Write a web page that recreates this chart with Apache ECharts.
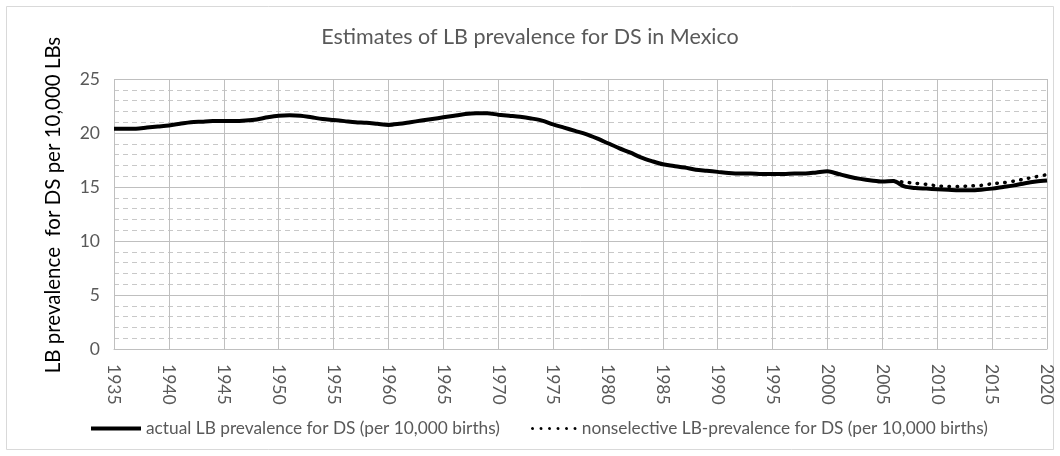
<!DOCTYPE html>
<html><head><meta charset="utf-8">
<script src="https://cdn.jsdelivr.net/npm/echarts@6/dist/echarts.min.js"></script>
<style>html,body{margin:0;padding:0;background:#fff}#c{width:1060px;height:456px}</style>
</head><body><div id="c"></div>
<script>
var years = [1935,1936,1937,1938,1939,1940,1941,1942,1943,1944,1945,1946,1947,1948,1949,1950,1951,1952,1953,1954,1955,1956,1957,1958,1959,1960,1961,1962,1963,1964,1965,1966,1967,1968,1969,1970,1971,1972,1973,1974,1975,1976,1977,1978,1979,1980,1981,1982,1983,1984,1985,1986,1987,1988,1989,1990,1991,1992,1993,1994,1995,1996,1997,1998,1999,2000,2001,2002,2003,2004,2005,2006,2007,2008,2009,2010,2011,2012,2013,2014,2015,2016,2017,2018,2019,2020];
var actualLB = [20.4,20.4,20.4,20.5,20.6,20.7,20.85,21.0,21.05,21.1,21.1,21.1,21.15,21.25,21.45,21.6,21.65,21.6,21.45,21.3,21.2,21.1,21.0,20.95,20.85,20.75,20.85,21.0,21.15,21.3,21.45,21.6,21.75,21.82,21.82,21.7,21.6,21.5,21.35,21.15,20.8,20.5,20.2,19.9,19.5,19.05,18.6,18.2,17.75,17.4,17.1,16.95,16.8,16.6,16.5,16.4,16.3,16.25,16.25,16.2,16.2,16.2,16.25,16.25,16.35,16.45,16.2,15.95,15.75,15.6,15.5,15.55,15.05,14.9,14.85,14.8,14.75,14.7,14.7,14.75,14.85,15.0,15.15,15.35,15.5,15.6];
var nonselYears = [2006,2007,2008,2009,2010,2011,2012,2013,2014,2015,2016,2017,2018,2019,2020];
var nonselLB = [15.55,15.45,15.35,15.25,15.1,15.05,15.05,15.1,15.15,15.3,15.4,15.55,15.75,15.95,16.15];
var titleText = 'Estimates of LB prevalence for DS in Mexico';
var yName = 'LB prevalence  for DS per 10,000 LBs';
var s1Name = 'actual LB prevalence for DS (per 10,000 births)';
var s2Name = 'nonselective LB-prevalence for DS (per 10,000 births)';

var FONT = 'Lato';
var dotIcon = 'path://M1.5,0a1.5,1.5 0 1,0 0.01,0zM10,0a1.5,1.5 0 1,0 0.01,0zM18.5,0a1.5,1.5 0 1,0 0.01,0zM27,0a1.5,1.5 0 1,0 0.01,0zM35.5,0a1.5,1.5 0 1,0 0.01,0zM44,0a1.5,1.5 0 1,0 0.01,0z';
var chart = echarts.init(document.getElementById('c'), null, {renderer:'canvas'});
chart.setOption({
  animation:false,
  backgroundColor:'#fff',
  textStyle:{fontFamily:FONT},
  graphic:[
    {type:'rect',shape:{x:6.5,y:6.5,width:1047,height:443},style:{fill:'none',stroke:'#d9d9d9',lineWidth:1},silent:true},
    {type:'text',x:53,y:205,rotation:Math.PI/2,silent:true,
      style:{text:yName,fill:'#000',font:'20.5px Lato',textAlign:'center',textVerticalAlign:'middle'}}
  ],
  title:{text:titleText,left:'center',top:21,textStyle:{fontFamily:FONT,fontSize:21.5,fontWeight:'normal',color:'#595959'}},
  grid:{left:114,right:13,top:79,bottom:107},
  legend:[
    {data:[{name:s1Name,icon:'rect'}],left:91,top:420,padding:0,itemWidth:50,itemHeight:4,textStyle:{fontFamily:FONT,fontSize:17.3,color:'#595959'}},
    {data:[{name:s2Name,icon:dotIcon}],left:531,top:420,padding:0,itemWidth:46,itemHeight:3,textStyle:{fontFamily:FONT,fontSize:17.3,color:'#595959'}}
  ],
  xAxis:{type:'value',min:1935,max:2020,interval:5,
    axisLine:{show:true,lineStyle:{color:'#bfbfbf'}},axisTick:{show:false},
    splitLine:{show:true,lineStyle:{color:'#bfbfbf',width:1}},
    axisLabel:{rotate:-90,margin:15,fontFamily:FONT,fontSize:17.5,color:'#595959',formatter:function(v){return String(v);}}},
  yAxis:{type:'value',min:0,max:25,interval:5,
    axisLine:{show:false},axisTick:{show:false},
    axisLabel:{margin:14,fontFamily:FONT,fontSize:17.5,color:'#595959'},
    splitLine:{show:true,lineStyle:{color:'#bfbfbf',width:1}},
    minorTick:{show:false,splitNumber:5},
    minorSplitLine:{show:true,lineStyle:{color:'#c8c8c8',width:1,type:[5,4]}}},
  series:[
    {name:s1Name,type:'line',data:years.map(function(y,i){return [y,actualLB[i]];}),symbol:'none',smooth:0.3,
      lineStyle:{color:'#000',width:4},itemStyle:{color:'#000'},z:3},
    {name:s2Name,type:'line',data:nonselYears.map(function(y,i){return [y,nonselLB[i]];}),symbol:'none',smooth:0.3,
      lineStyle:{color:'#000',width:3.5,type:[0.5,7.5],cap:'round'},itemStyle:{color:'#000'},z:4}
  ]
});
</script></body></html>
